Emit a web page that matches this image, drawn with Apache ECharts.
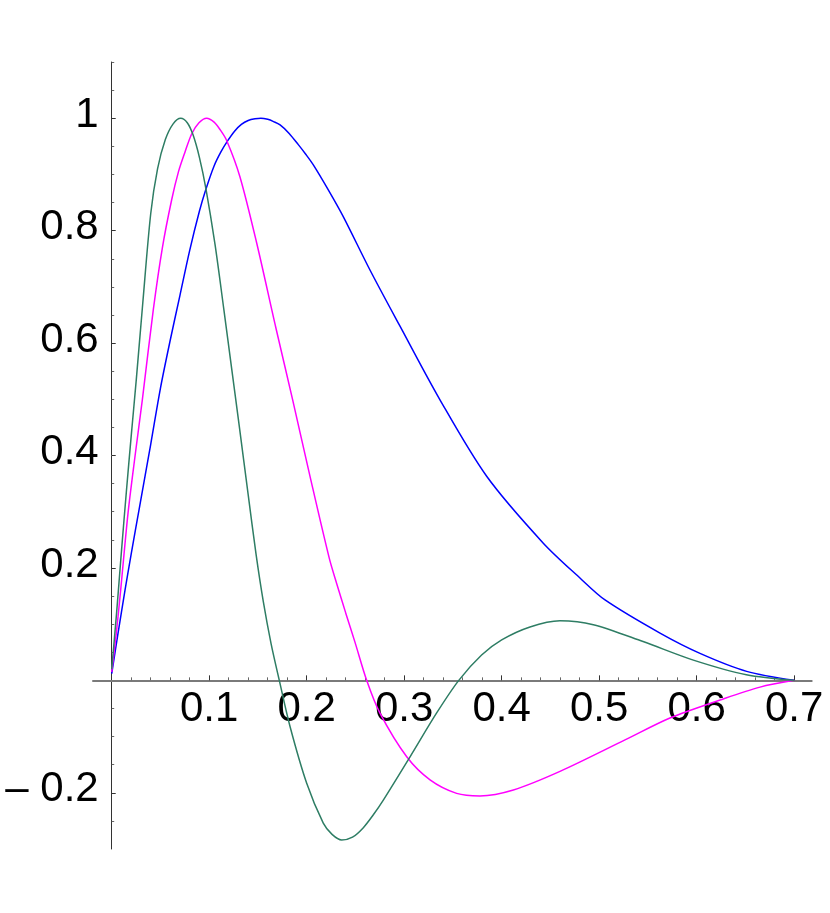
<!DOCTYPE html>
<html><head><meta charset="utf-8">
<script src="https://cdn.jsdelivr.net/npm/echarts@6/dist/echarts.min.js"></script>
<style>html,body{margin:0;padding:0;background:#fff}#c{width:830px;height:913px}</style>
</head><body><div id="c"></div>
<script>
// [x, y] points
const blueCurve = [[0,0.012],[0.0065,0.084],[0.0136,0.16],[0.02,0.225],[0.0287,0.31],[0.04,0.42],[0.05,0.52],[0.06,0.605],[0.07,0.685],[0.08,0.765],[0.09,0.835],[0.0967,0.874],[0.105,0.915],[0.112,0.94],[0.119,0.96],[0.126,0.977],[0.133,0.989],[0.14,0.996],[0.147,0.999],[0.153,1.0],[0.16,0.998],[0.166,0.994],[0.1727,0.988],[0.182,0.973],[0.1914,0.953],[0.199,0.936],[0.2068,0.917],[0.222,0.873],[0.2375,0.825],[0.2649,0.73],[0.2957,0.63],[0.3367,0.499],[0.3846,0.363],[0.4427,0.244],[0.4803,0.182],[0.506,0.143],[0.5624,0.084],[0.6034,0.048],[0.6513,0.016],[0.7,0]];
const magentaCurve = [[0,0.015],[0.0047,0.084],[0.0092,0.161],[0.0167,0.297],[0.024,0.40],[0.0314,0.499],[0.0427,0.66],[0.052,0.77],[0.0615,0.855],[0.0685,0.905],[0.0752,0.94],[0.082,0.972],[0.0895,0.992],[0.0974,1.0],[0.105,0.993],[0.111,0.98],[0.118,0.96],[0.1315,0.896],[0.1487,0.778],[0.168,0.63],[0.1856,0.499],[0.2034,0.363],[0.2232,0.217],[0.2308,0.172],[0.24,0.12],[0.2495,0.068],[0.2615,0],[0.275,-0.058],[0.3026,-0.136],[0.3265,-0.177],[0.3538,-0.201],[0.3777,-0.2055],[0.412,-0.195],[0.4598,-0.162],[0.5265,-0.106],[0.5726,-0.067],[0.624,-0.035],[0.665,-0.012],[0.7,0]];
const greenCurve = [[0,0.02],[0.005,0.12],[0.01,0.23],[0.015,0.335],[0.02,0.435],[0.0252,0.535],[0.0318,0.67],[0.040,0.83],[0.047,0.91],[0.055,0.962],[0.063,0.99],[0.0708,1.0],[0.0775,0.992],[0.0835,0.97],[0.09,0.93],[0.0967,0.874],[0.106,0.775],[0.115,0.66],[0.123,0.555],[0.131,0.45],[0.14,0.33],[0.148,0.225],[0.1555,0.14],[0.1635,0.065],[0.1719,0],[0.1829,-0.082],[0.2,-0.183],[0.217,-0.254],[0.226,-0.274],[0.2359,-0.284],[0.247,-0.279],[0.2581,-0.262],[0.268,-0.24],[0.2786,-0.213],[0.306,-0.136],[0.3333,-0.058],[0.356,0],[0.3794,0.045],[0.40,0.072],[0.429,0.095],[0.4598,0.106],[0.494,0.099],[0.545,0.069],[0.5966,0.036],[0.651,0.010],[0.7,0]];

const xMajorTicks = [0.1,0.2,0.3,0.4,0.5,0.6,0.7];
const xMinorTicks = [0.02,0.04,0.06,0.08,0.12,0.14,0.16,0.18,0.22,0.24,0.26,0.28,0.32,0.34,0.36,0.38,0.42,0.44,0.46,0.48,0.52,0.54,0.56,0.58,0.62,0.64,0.66,0.68];
const yMajorTicks = [-0.2,0.2,0.4,0.6,0.8,1];
const yMinorTicks = [-0.25,-0.15,-0.1,-0.05,0.05,0.1,0.15,0.25,0.3,0.35,0.45,0.5,0.55,0.65,0.7,0.75,0.85,0.9,0.95,1.05,1.1];

const FONT = 'Liberation Sans';
const xFmt = v => v.toFixed(1);
const yText = v => Math.abs(v - 1) < 1e-9 ? '1' : (v < 0 ? '\u2013 ' + Math.abs(v).toFixed(1) : v.toFixed(1));
const yFmt = v => '{n|' + yText(v) + '}';

const X_MIN = -0.0192, X_MAX = 0.718, Y_MIN = -0.3, Y_MAX = 1.1;
const G_LEFT = 93, G_TOP = 62, G_W = 718.7, G_H = 787;
// pixel positions of the zero lines, derived from the ranges
const zeroXpx = G_LEFT + (0 - X_MIN) / (X_MAX - X_MIN) * G_W;
const zeroYpx = G_TOP + (Y_MAX - 0) / (Y_MAX - Y_MIN) * G_H;

const chart = echarts.init(document.getElementById('c'), null, {renderer: 'canvas'});
chart.setOption({
  animation: false,
  backgroundColor: '#fff',
  grid: [
    {left: G_LEFT, top: G_TOP, width: G_W, height: G_H, containLabel: false, outerBoundsMode: 'none'},
    {left: G_LEFT, top: G_TOP, width: G_W, height: zeroYpx - G_TOP, containLabel: false, outerBoundsMode: 'none'},
    {left: zeroXpx, top: G_TOP, width: G_LEFT + G_W - zeroXpx, height: G_H, containLabel: false, outerBoundsMode: 'none'}
  ],
  xAxis: [
    {gridIndex: 0, type: 'value', min: X_MIN, max: X_MAX, show: false},
    {gridIndex: 1, type: 'value', min: X_MIN, max: X_MAX, position: 'bottom',
     axisLine: {onZero: false, lineStyle: {color: '#7a7a7a', width: 2}},
     axisTick: {inside: true, length: 5, customValues: xMajorTicks, lineStyle: {color: '#333', width: 1}},
     axisLabel: {customValues: xMajorTicks, formatter: xFmt, fontSize: 42, fontFamily: FONT, color: '#000', margin: 8},
     splitLine: {show: false}},
    {gridIndex: 1, type: 'value', min: X_MIN, max: X_MAX, position: 'bottom',
     axisLine: {show: false, onZero: false},
     axisTick: {inside: true, length: 3, customValues: xMinorTicks, lineStyle: {color: '#666', width: 1}},
     axisLabel: {show: false},
     splitLine: {show: false}},
    {gridIndex: 2, type: 'value', min: 0, max: X_MAX, show: false}
  ],
  yAxis: [
    {gridIndex: 0, type: 'value', min: Y_MIN, max: Y_MAX, show: false},
    {gridIndex: 1, type: 'value', min: 0, max: Y_MAX, show: false},
    {gridIndex: 2, type: 'value', min: Y_MIN, max: Y_MAX, position: 'left',
     axisLine: {onZero: false, lineStyle: {color: '#333', width: 1}},
     axisTick: {inside: true, length: 4, customValues: yMajorTicks, lineStyle: {color: '#333', width: 1}},
     axisLabel: {customValues: yMajorTicks, formatter: yFmt, margin: 13, align: 'right', verticalAlign: 'middle',
       rich: {n: {fontSize: 42, fontFamily: FONT, color: '#000', align: 'right', padding: [0, 0, 6, 0]}}},
     splitLine: {show: false}},
    {gridIndex: 2, type: 'value', min: Y_MIN, max: Y_MAX, position: 'left',
     axisLine: {show: false, onZero: false},
     axisTick: {inside: true, length: 2.5, customValues: yMinorTicks, lineStyle: {color: '#666', width: 1}},
     axisLabel: {show: false},
     splitLine: {show: false}}
  ],
  series: [
    {type: 'line', data: blueCurve, xAxisIndex: 0, yAxisIndex: 0, symbol: 'none', smooth: 0.3, lineStyle: {color: '#0000ff', width: 1.5}},
    {type: 'line', data: magentaCurve, xAxisIndex: 0, yAxisIndex: 0, symbol: 'none', smooth: 0.3, lineStyle: {color: '#ff00ff', width: 1.5}},
    {type: 'line', data: greenCurve, xAxisIndex: 0, yAxisIndex: 0, symbol: 'none', smooth: 0.3, lineStyle: {color: '#2e7d64', width: 1.5}}
  ]
});
</script></body></html>
